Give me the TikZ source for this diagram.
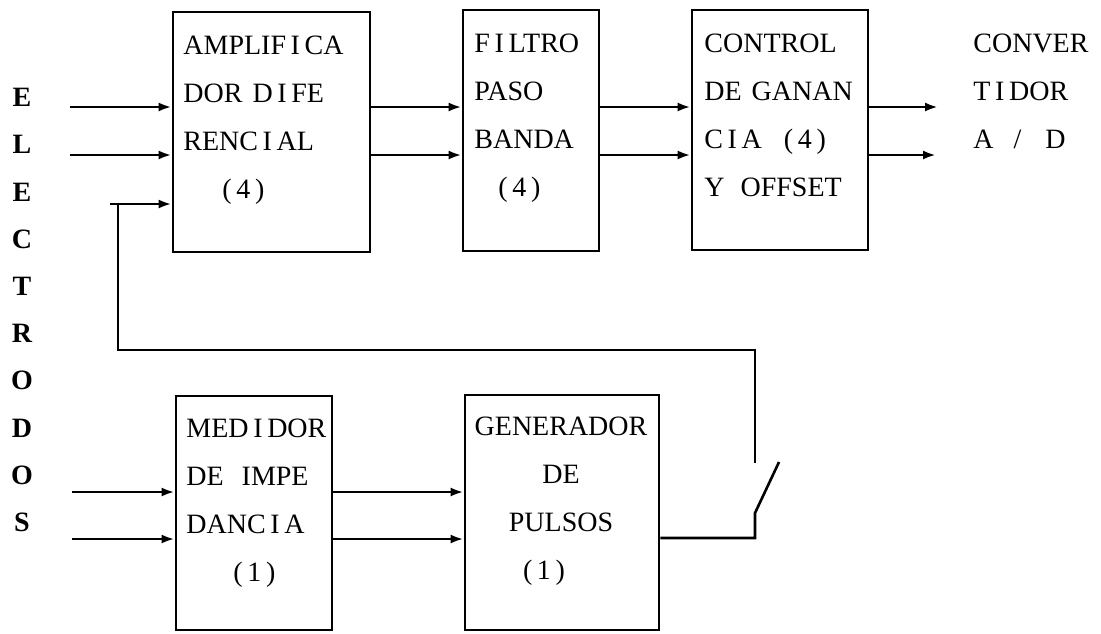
\documentclass[tikz,border=0pt]{standalone}
\usepackage{fontspec}
\setmainfont{Liberation Serif}
\usetikzlibrary{arrows.meta}

\tikzset{
	bloque/.style={draw, line width=1.4pt, inner sep=0pt},
	texto/.style={font=\fontsize{14}{24}\selectfont, align=left, inner sep=0pt, anchor=north west},
	flecha/.style={line width=1.3pt, -{Latex[length=6.5pt,width=4.5pt]}},
	linea/.style={line width=1.3pt}
}

\begin{document}
\begin{tikzpicture}[x=0.5pt,y=-0.5pt]
			\useasboundingbox(0,0) rectangle (1101,633);
			\node[bloque, minimum width=98.5pt, minimum height=120pt](amp) at (271.5,132) {};
			\node[bloque, minimum width=68pt, minimum height=120.5pt](fil) at (531,130.5) {};
			\node[bloque, minimum width=88pt, minimum height=120pt](con) at (780,130) {};
			\node[bloque, minimum width=78pt, minimum height=117pt](med) at (254,513) {};
			\node[bloque, minimum width=97pt, minimum height=117.5pt](gen) at (562,512.5) {};
			\node[texto](ampT) at (183,36) {AMPLIF\,I\,CA\\DOR\hspace{5pt}D\,I\,FE\\RENC\,I\,AL\\\hspace*{19.5pt}(\,4\,)};
			\node[texto](filT) at (474,33.5) {F\,I\,LTRO\\PASO\\BANDA\\\hspace*{12pt}(\,4\,)};
			\node[texto](conT) at (704,33.5) {CONTROL\\DE\hspace{5pt}GANAN\\C\,I\,A\hspace{11pt}(\,4\,)\\Y\hspace{8pt}OFFSET};
			\node[texto](convT) at (973,33.5) {CONVER\\T\,I\,DOR\\A\hspace{10pt}/\hspace{12pt}D};
			\node[texto](medT) at (186,418.5) {MED\,I\,DOR\\DE\hspace{9pt}IMPE\\DANC\,I\,A\\\hspace*{23.5pt}(\,1\,)};
			\node[texto, align=center, anchor=north](genT) at (561,416.5) {GENERADOR\\DE\\PULSOS\\(\,1\,)\hspace*{17pt}};
			\node[texto, align=center, anchor=north, font=\fontsize{14}{23.6}\selectfont\bfseries](elec) at (22,88) {E\\L\\E\\C\\T\\R\\O\\D\\O\\S};
			\coordinate(e1) at (70,107);
			\coordinate(e2) at (70,155);
			\coordinate(e3) at (110,204);
			\coordinate(esq) at (118,204);
			\coordinate(lazo) at (118,350);
			\coordinate(s1) at (938,107);
			\coordinate(s2) at (936,155);
			\coordinate(m1) at (72,492);
			\coordinate(m2) at (72,539);
			\coordinate(swA) at (755,463);
			\coordinate(swB) at (755,513);
			\coordinate(swC) at (779,462);
			\coordinate(pul) at (755,538);
			\draw[flecha](e1) -- (e1 -| amp.west);
			\draw[flecha](e2) -- (e2 -| amp.west);
			\draw[flecha](e3) -- (e3 -| amp.west);
			\draw[flecha](amp.east |- e1) -- (fil.west |- e1);
			\draw[flecha](amp.east |- e2) -- (fil.west |- e2);
			\draw[flecha](fil.east |- e1) -- (con.west |- e1);
			\draw[flecha](fil.east |- e2) -- (con.west |- e2);
			\draw[flecha](con.east |- s1) -- (s1);
			\draw[flecha](con.east |- s2) -- (s2);
			\draw[flecha](m1) -- (m1 -| med.west);
			\draw[flecha](m2) -- (m2 -| med.west);
			\draw[flecha](med.east |- m1) -- (gen.west |- m1);
			\draw[flecha](med.east |- m2) -- (gen.west |- m2);
			\draw[linea](esq) -- (lazo) -| (swA);
			\draw[linea](gen.east |- pul) -- (pul) -- (swB) -- (swC);
		\end{tikzpicture}
\end{document}
